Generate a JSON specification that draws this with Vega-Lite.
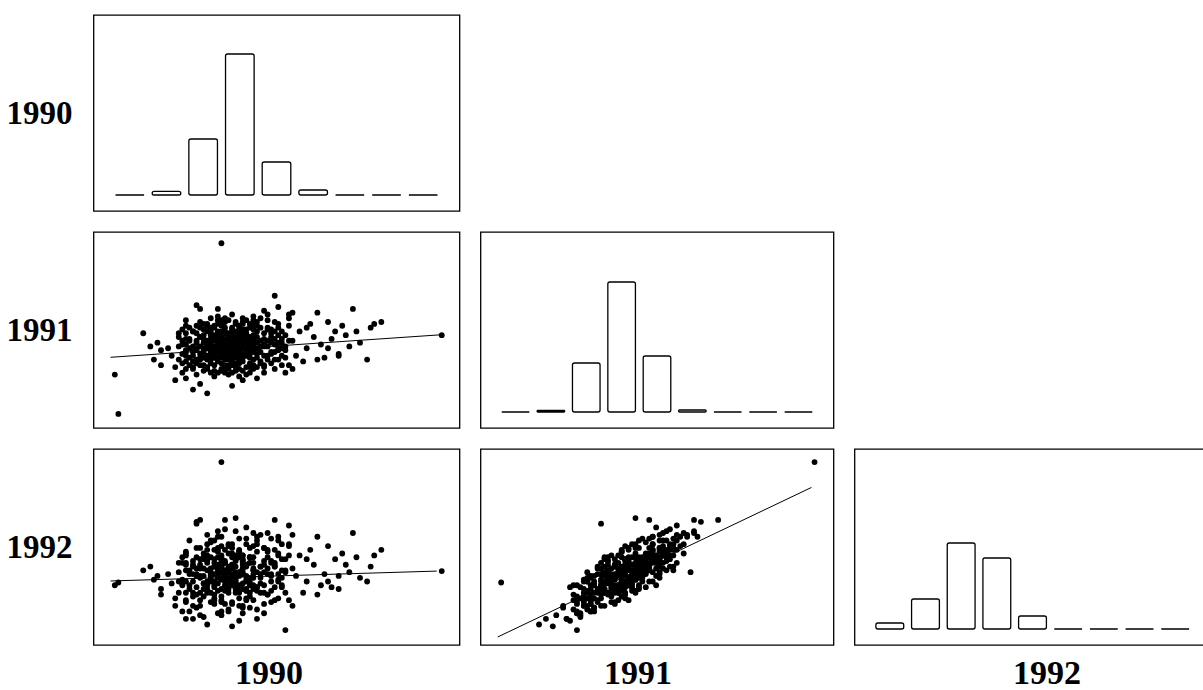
{
  "$schema": "https://vega.github.io/schema/vega-lite/v6.json",
  "padding": {"left": 4.5, "top": 14, "right": -3, "bottom": -1},
  "background": "white",
  "spacing": 19,
  "datasets": {
    "pts": [
      {"v90":3.1,"v91":3.6,"v92":2.9},{"v90":3.3,"v91":3.8,"v92":3.5},{"v90":2.8,"v91":3.4,"v92":2.4},{"v90":3.6,"v91":3.9,"v92":3.1},
      {"v90":3.0,"v91":4.1,"v92":3.8},{"v90":3.4,"v91":3.3,"v92":2.2},{"v90":2.7,"v91":3.7,"v92":3.3},{"v90":3.8,"v91":3.5,"v92":2.6},
      {"v90":3.2,"v91":4.3,"v92":3.4},{"v90":2.9,"v91":3.0,"v92":2.9},{"v90":3.5,"v91":4.2,"v92":4.0},{"v90":3.0,"v91":3.2,"v92":1.8},
      {"v90":3.7,"v91":3.1,"v92":2.7},{"v90":2.6,"v91":3.9,"v92":3.6},{"v90":3.3,"v91":3.5,"v92":3.9},{"v90":3.9,"v91":4.0,"v92":3.2},
      {"v90":3.1,"v91":2.9,"v92":2.1},{"v90":2.8,"v91":4.2,"v92":3.0},{"v90":3.5,"v91":3.6,"v92":2.3},{"v90":3.2,"v91":3.9,"v92":4.1},
      {"v90":3.6,"v91":3.2,"v92":3.0},{"v90":2.9,"v91":3.8,"v92":2.5},{"v90":3.4,"v91":4.4,"v92":3.7},{"v90":3.0,"v91":3.5,"v92":3.4},
      {"v90":3.8,"v91":3.7,"v92":3.6},{"v90":2.7,"v91":3.1,"v92":2.6},{"v90":3.3,"v91":3.0,"v92":2.5},{"v90":3.6,"v91":4.3,"v92":3.3},
      {"v90":3.1,"v91":4.0,"v92":2.8},{"v90":2.8,"v91":3.6,"v92":3.8},{"v90":3.5,"v91":3.4,"v92":3.1},{"v90":3.2,"v91":3.3,"v92":2.0},
      {"v90":3.7,"v91":3.8,"v92":2.9},{"v90":2.9,"v91":4.4,"v92":4.2},{"v90":3.4,"v91":3.7,"v92":2.7},{"v90":3.0,"v91":3.9,"v92":3.1},
      {"v90":3.9,"v91":3.4,"v92":3.3},{"v90":2.6,"v91":3.5,"v92":2.2},{"v90":3.3,"v91":4.1,"v92":3.0},{"v90":3.6,"v91":3.6,"v92":3.7},
      {"v90":3.1,"v91":3.1,"v92":3.2},{"v90":2.8,"v91":3.9,"v92":3.4},{"v90":3.5,"v91":2.9,"v92":2.4},{"v90":3.2,"v91":3.7,"v92":2.4},
      {"v90":3.8,"v91":4.1,"v92":3.9},{"v90":2.7,"v91":4.0,"v92":2.9},{"v90":3.4,"v91":3.2,"v92":2.6},{"v90":3.0,"v91":4.3,"v92":4.0},
      {"v90":3.7,"v91":3.5,"v92":2.1},{"v90":3.1,"v91":3.4,"v92":3.6},{"v90":2.9,"v91":3.3,"v92":2.8},{"v90":3.6,"v91":4.0,"v92":3.5},
      {"v90":3.3,"v91":3.6,"v92":2.6},{"v90":2.7,"v91":3.3,"v92":3.0},{"v90":3.9,"v91":3.7,"v92":2.8},{"v90":3.2,"v91":3.0,"v92":3.1},
      {"v90":3.5,"v91":3.9,"v92":2.9},{"v90":2.8,"v91":3.2,"v92":1.9},{"v90":3.4,"v91":4.1,"v92":3.8},{"v90":3.0,"v91":3.7,"v92":3.7},
      {"v90":3.7,"v91":4.2,"v92":3.4},{"v90":3.1,"v91":3.8,"v92":2.3},{"v90":2.6,"v91":3.8,"v92":3.2},{"v90":3.3,"v91":3.4,"v92":2.9},
      {"v90":3.8,"v91":3.2,"v92":2.4},{"v90":2.9,"v91":3.6,"v92":3.1},{"v90":3.5,"v91":3.1,"v92":2.0},{"v90":3.2,"v91":4.2,"v92":3.1},
      {"v90":3.6,"v91":3.5,"v92":3.3},{"v90":3.0,"v91":3.0,"v92":2.2},{"v90":3.4,"v91":3.9,"v92":3.4},{"v90":2.7,"v91":3.5,"v92":2.7},
      {"v90":3.9,"v91":3.9,"v92":3.0},{"v90":3.1,"v91":4.4,"v92":3.6},{"v90":3.3,"v91":3.2,"v92":3.3},{"v90":2.8,"v91":3.0,"v92":2.6},
      {"v90":3.7,"v91":3.3,"v92":3.5},{"v90":3.2,"v91":3.5,"v92":2.2},{"v90":3.5,"v91":3.8,"v92":3.9},{"v90":3.0,"v91":3.3,"v92":2.7},
      {"v90":3.6,"v91":3.7,"v92":2.5},{"v90":2.9,"v91":4.1,"v92":3.5},{"v90":3.4,"v91":3.5,"v92":3.0},{"v90":3.1,"v91":3.7,"v92":3.2},
      {"v90":3.8,"v91":3.9,"v92":3.6},{"v90":2.7,"v91":3.9,"v92":2.7},{"v90":3.3,"v91":3.9,"v92":2.8},{"v90":3.5,"v91":4.4,"v92":4.3},
      {"v90":3.0,"v91":3.8,"v92":2.8},{"v90":3.2,"v91":3.2,"v92":2.8},
      {"v90":2.3,"v91":3.5,"v92":2.9},{"v90":2.1,"v91":3.9,"v92":3.2},{"v90":2.4,"v91":3.0,"v92":2.0},{"v90":2.2,"v91":4.4,"v92":3.7},
      {"v90":2.5,"v91":2.6,"v92":2.2},{"v90":1.9,"v91":3.2,"v92":2.5},{"v90":2.0,"v91":3.7,"v92":3.6},{"v90":2.4,"v91":4.1,"v92":2.8},
      {"v90":4.1,"v91":3.6,"v92":3.0},{"v90":4.3,"v91":3.9,"v92":3.9},{"v90":4.0,"v91":3.0,"v92":2.1},{"v90":4.4,"v91":3.3,"v92":2.9},
      {"v90":4.2,"v91":4.3,"v92":3.5},{"v90":4.6,"v91":3.5,"v92":2.6},{"v90":4.5,"v91":4.0,"v92":3.4},{"v90":4.1,"v91":2.7,"v92":2.5},
      {"v90":4.7,"v91":3.8,"v92":3.2},{"v90":4.3,"v91":3.1,"v92":1.9},{"v90":3.0,"v91":2.4,"v92":1.5},{"v90":3.4,"v91":2.3,"v92":2.3},
      {"v90":2.8,"v91":2.6,"v92":1.4},{"v90":3.7,"v91":2.5,"v92":2.1},{"v90":3.2,"v91":2.1,"v92":1.1},{"v90":3.9,"v91":2.6,"v92":1.6},
      {"v90":2.6,"v91":2.4,"v92":2.0},{"v90":3.5,"v91":2.7,"v92":1.7},{"v90":3.1,"v91":2.5,"v92":2.6},{"v90":3.3,"v91":2.8,"v92":1.5},
      {"v90":3.0,"v91":4.7,"v92":4.5},{"v90":3.4,"v91":4.9,"v92":4.0},{"v90":2.7,"v91":4.6,"v92":3.9},{"v90":3.8,"v91":4.6,"v92":4.4},
      {"v90":3.2,"v91":5.0,"v92":4.6},{"v90":3.6,"v91":4.8,"v92":3.7},{"v90":2.5,"v91":4.8,"v92":4.1},{"v90":4.0,"v91":4.7,"v92":4.8},
      {"v90":2.9,"v91":5.2,"v92":5.0},{"v90":3.3,"v91":4.6,"v92":3.5},{"v90":2.3,"v91":4.3,"v92":3.9},{"v90":4.4,"v91":4.5,"v92":3.6},
      {"v90":2.0,"v91":2.8,"v92":1.6},{"v90":1.8,"v91":3.6,"v92":3.1},{"v90":2.2,"v91":3.3,"v92":3.4},{"v90":2.5,"v91":3.8,"v92":2.5},
      {"v90":2.3,"v91":2.7,"v92":1.2},{"v90":2.0,"v91":4.0,"v92":3.5},{"v90":4.8,"v91":3.4,"v92":3.1},{"v90":4.6,"v91":4.2,"v92":4.1},
      {"v90":4.2,"v91":3.6,"v92":2.4},{"v90":4.5,"v91":2.9,"v92":2.3},{"v90":4.0,"v91":4.1,"v92":3.1},{"v90":4.7,"v91":3.1,"v92":2.8},
      {"v90":2.6,"v91":2.9,"v92":2.4},{"v90":3.6,"v91":2.8,"v92":2.2},{"v90":3.9,"v91":4.5,"v92":3.9},{"v90":2.8,"v91":4.7,"v92":3.6},
      {"v90":3.5,"v91":2.4,"v92":1.3},{"v90":2.4,"v91":3.6,"v92":3.5},{"v90":4.1,"v91":3.3,"v92":3.4},{"v90":2.1,"v91":3.0,"v92":2.2},
      {"v90":4.3,"v91":4.6,"v92":4.2},{"v90":2.7,"v91":2.2,"v92":1.5},{"v90":3.8,"v91":2.2,"v92":1.8},{"v90":3.1,"v91":5.1,"v92":4.3},
      {"v90":3.7,"v91":5.0,"v92":4.9},{"v90":2.4,"v91":4.6,"v92":4.4},{"v90":4.2,"v91":2.5,"v92":2.0},{"v90":2.2,"v91":2.4,"v92":1.8},
      {"v90":4.5,"v91":3.7,"v92":3.6},{"v90":1.9,"v91":3.9,"v92":2.7},{"v90":2.6,"v91":4.4,"v92":4.6},{"v90":3.3,"v91":2.6,"v92":2.8},
      {"v90":4.0,"v91":3.8,"v92":2.3},{"v90":2.9,"v91":2.2,"v92":0.9},{"v90":3.5,"v91":4.7,"v92":4.2},{"v90":4.4,"v91":4.1,"v92":3.0},
      {"v90":2.0,"v91":3.4,"v92":2.0},{"v90":3.0,"v91":2.7,"v92":1.0},{"v90":4.6,"v91":2.9,"v92":1.7},{"v90":2.5,"v91":4.2,"v92":3.3},
      {"v90":5.0,"v91":3.9,"v92":3.3},{"v90":5.2,"v91":4.4,"v92":4.0},{"v90":5.4,"v91":3.5,"v92":2.6},{"v90":5.1,"v91":3.1,"v92":2.9},
      {"v90":5.6,"v91":4.1,"v92":3.5},{"v90":5.8,"v91":3.7,"v92":2.4},{"v90":5.5,"v91":4.8,"v92":4.3},{"v90":5.9,"v91":3.0,"v92":3.0},
      {"v90":6.2,"v91":4.4,"v92":3.8},{"v90":6.0,"v91":3.5,"v92":2.6},{"v90":6.3,"v91":3.2,"v92":2.2},{"v90":5.3,"v91":2.8,"v92":2.0},
      {"v90":6.5,"v91":4.2,"v92":3.5},{"v90":6.8,"v91":4.4,"v92":3.9},{"v90":7.2,"v91":4.6,"v92":3.4},{"v90":6.9,"v91":3.8,"v92":2.8},
      {"v90":7.1,"v91":2.9,"v92":2.6},{"v90":6.3,"v91":3.1,"v92":2.9},{"v90":6.7,"v91":5.6,"v92":5.2},{"v90":7.3,"v91":4.8,"v92":4.0},
      {"v90":4.9,"v91":5.3,"v92":4.6},{"v90":5.0,"v91":2.4,"v92":1.3},{"v90":5.7,"v91":2.9,"v92":1.9},{"v90":6.1,"v91":4.0,"v92":2.3},
      {"v90":5.4,"v91":4.6,"v92":3.8},{"v90":4.9,"v91":2.6,"v92":1.6},{"v90":6.0,"v91":4.9,"v92":4.5},{"v90":6.4,"v91":4.7,"v92":4.1},
      {"v90":5.7,"v91":5.4,"v92":5.0},{"v90":6.6,"v91":3.6,"v92":3.1},
      {"v90":0.8,"v91":4.3,"v92":3.2},{"v90":1.0,"v91":3.6,"v92":3.4},{"v90":1.3,"v91":3.4,"v92":2.2},{"v90":1.3,"v91":2.6,"v92":1.9},
      {"v90":1.7,"v91":1.8,"v92":1.3},{"v90":1.5,"v91":3.5,"v92":3.0},{"v90":1.2,"v91":3.8,"v92":2.9},{"v90":1.6,"v91":3.1,"v92":2.5},
      {"v90":1.8,"v91":4.3,"v92":3.6},{"v90":1.7,"v91":2.5,"v92":1.7},{"v90":2.0,"v91":1.9,"v92":0.6},{"v90":1.9,"v91":2.2,"v92":1.0},
      {"v90":3.0,"v91":9.1,"v92":9.0},{"v90":0.0,"v91":2.1,"v92":2.4},{"v90":0.1,"v91":0.0,"v92":2.55},{"v90":9.2,"v91":4.2,"v92":3.16},
      {"v90":4.5,"v91":6.3,"v92":5.9},{"v90":2.3,"v91":5.8,"v92":5.8},{"v90":2.4,"v91":5.6,"v92":5.9},{"v90":3.4,"v91":3.9,"v92":6.0},
      {"v90":3.7,"v91":4.5,"v92":5.5},{"v90":5.0,"v91":5.4,"v92":5.1},{"v90":4.3,"v91":5.3,"v92":5.2},{"v90":2.6,"v91":1.1,"v92":0.3},
      {"v90":4.0,"v91":1.9,"v92":0.6},{"v90":3.3,"v91":1.5,"v92":0.2},{"v90":2.4,"v91":1.6,"v92":0.8},{"v90":4.8,"v91":2.2,"v92":0.0},
      {"v90":3.6,"v91":1.8,"v92":1.2},{"v90":2.2,"v91":1.3,"v92":0.6},{"v90":4.6,"v91":5.7,"v92":5.0},{"v90":2.9,"v91":5.6,"v92":5.3},
      {"v90":2.0,"v91":5.0,"v92":4.0},{"v90":4.9,"v91":5.1,"v92":5.6},{"v90":1.1,"v91":2.9,"v92":2.7},{"v90":7.5,"v91":4.9,"v92":4.3},
      {"v90":4.2,"v91":5.5,"v92":3.1},{"v90":3.9,"v91":5.0,"v92":3.2},{"v90":2.3,"v91":2.9,"v92":5.7},{"v90":3.1,"v91":4.3,"v92":5.9},
      {"v90":2.2,"v91":3.1,"v92":3.5},{"v90":4.4,"v91":3.8,"v92":2.1},{"v90":2.5,"v91":4.5,"v92":2.9},{"v90":3.9,"v91":2.9,"v92":3.6},
      {"v90":1.9,"v91":2.7,"v92":2.4},{"v90":4.7,"v91":4.4,"v92":4.6},{"v90":2.8,"v91":2.0,"v92":2.3},{"v90":3.6,"v91":5.1,"v92":3.6},
      {"v90":2.1,"v91":4.6,"v92":4.8},{"v90":4.2,"v91":2.2,"v92":0.9},{"v90":3.1,"v91":3.3,"v92":1.4},{"v90":2.6,"v91":3.7,"v92":4.3},
      {"v90":4.5,"v91":4.9,"v92":3.4},{"v90":3.4,"v91":2.5,"v92":3.1},{"v90":2.4,"v91":2.9,"v92":1.3},{"v90":4.0,"v91":3.5,"v92":4.2},
      {"v90":1.8,"v91":4.1,"v92":2.6},{"v90":3.7,"v91":4.0,"v92":2.2},{"v90":2.9,"v91":4.8,"v92":3.2},{"v90":4.8,"v91":3.0,"v92":2.0},
      {"v90":2.3,"v91":3.9,"v92":4.4},{"v90":3.8,"v91":2.7,"v92":1.2},{"v90":2.7,"v91":4.2,"v92":4.7},{"v90":4.3,"v91":3.6,"v92":1.9},
      {"v90":3.2,"v91":2.4,"v92":2.7},{"v90":2.0,"v91":3.3,"v92":1.5},{"v90":4.6,"v91":4.6,"v92":3.0},{"v90":3.5,"v91":3.2,"v92":4.0},
      {"v90":2.5,"v91":2.3,"v92":0.7},{"v90":3.9,"v91":4.7,"v92":5.2},{"v90":2.2,"v91":4.4,"v92":2.6},{"v90":4.1,"v91":2.8,"v92":3.4},
      {"v90":3.0,"v91":5.0,"v92":3.4},{"v90":4.9,"v91":3.9,"v92":4.5},{"v90":2.6,"v91":3.1,"v92":3.7},{"v90":3.3,"v91":4.5,"v92":2.4},
      {"v90":2.1,"v91":2.6,"v92":1.0},{"v90":3.6,"v91":2.3,"v92":0.9},{"v90":4.4,"v91":4.3,"v92":4.9},{"v90":2.8,"v91":3.4,"v92":1.6},
      {"v90":3.4,"v91":4.8,"v92":5.3},{"v90":1.9,"v91":3.7,"v92":3.9},{"v90":4.2,"v91":3.1,"v92":3.7},{"v90":2.4,"v91":4.9,"v92":3.8},
      {"v90":3.7,"v91":3.6,"v92":1.7},{"v90":3.1,"v91":2.2,"v92":2.4},{"v90":4.6,"v91":3.4,"v92":4.0},{"v90":2.3,"v91":2.1,"v92":1.9},
      {"v90":3.9,"v91":4.2,"v92":2.3},{"v90":2.7,"v91":5.1,"v92":4.8},{"v90":4.0,"v91":2.5,"v92":1.1},{"v90":3.3,"v91":3.9,"v92":4.6},
      {"v90":2.0,"v91":4.3,"v92":4.1},{"v90":4.7,"v91":2.6,"v92":2.4},{"v90":3.5,"v91":4.6,"v92":3.1},{"v90":2.9,"v91":2.8,"v92":3.3},
      {"v90":4.3,"v91":5.0,"v92":4.3},{"v90":2.2,"v91":3.6,"v92":2.0},{"v90":3.8,"v91":3.0,"v92":3.9},{"v90":3.0,"v91":4.4,"v92":5.0},
      {"v90":4.5,"v91":2.4,"v92":1.6},{"v90":2.5,"v91":3.3,"v92":3.8},{"v90":3.6,"v91":4.9,"v92":4.0},{"v90":1.8,"v91":2.9,"v92":2.0},
      {"v90":4.1,"v91":4.6,"v92":2.8},{"v90":3.2,"v91":2.6,"v92":1.0},{"v90":2.8,"v91":4.0,"v92":4.8},{"v90":4.8,"v91":4.2,"v92":3.2},
      {"v90":2.3,"v91":4.7,"v92":3.3},{"v90":3.7,"v91":2.1,"v92":1.6},{"v90":3.4,"v91":3.0,"v92":3.8},{"v90":2.6,"v91":2.5,"v92":2.6},
      {"v90":4.4,"v91":3.2,"v92":1.5},{"v90":3.0,"v91":3.7,"v92":1.6},{"v90":2.1,"v91":4.0,"v92":3.0},{"v90":3.9,"v91":5.2,"v92":4.5},
      {"v90":4.2,"v91":4.0,"v92":4.4},{"v90":2.9,"v91":3.5,"v92":4.3},{"v90":3.5,"v91":2.0,"v92":0.5},{"v90":2.4,"v91":4.1,"v92":3.3},
      {"v90":4.6,"v91":3.8,"v92":2.7},{"v90":3.1,"v91":4.9,"v92":5.4},{"v90":2.7,"v91":2.9,"v92":2.0},{"v90":3.8,"v91":3.4,"v92":2.0},
      {"v90":2.0,"v91":2.4,"v92":2.6},{"v90":4.3,"v91":2.9,"v92":3.0},{"v90":3.3,"v91":5.3,"v92":4.1},{"v90":2.5,"v91":3.5,"v92":1.8},
      {"v90":4.0,"v91":4.4,"v92":5.0},{"v90":3.6,"v91":3.0,"v92":1.3},{"v90":2.2,"v91":2.8,"v92":3.0},{"v90":4.9,"v91":4.7,"v92":4.0},
      {"v90":3.2,"v91":3.6,"v92":4.5},{"v90":2.8,"v91":2.3,"v92":1.7},{"v90":3.7,"v91":4.3,"v92":2.6},{"v90":4.5,"v91":3.3,"v92":3.5},
      {"v90":1.9,"v91":4.5,"v92":3.6},{"v90":3.4,"v91":2.7,"v92":2.0},{"v90":2.6,"v91":4.6,"v92":5.1},{"v90":4.1,"v91":3.9,"v92":2.0},
      {"v90":3.0,"v91":3.1,"v92":3.9},{"v90":2.3,"v91":3.4,"v92":2.3},{"v90":3.9,"v91":2.4,"v92":2.2},{"v90":4.7,"v91":4.0,"v92":3.8},
      {"v90":2.9,"v91":5.0,"v92":4.4},{"v90":3.5,"v91":4.1,"v92":4.9},{"v90":2.1,"v91":3.5,"v92":2.4},{"v90":4.2,"v91":2.6,"v92":1.4},
      {"v90":3.1,"v91":2.6,"v92":2.9},{"v90":2.7,"v91":4.4,"v92":3.1},{"v90":3.8,"v91":4.8,"v92":3.9},{"v90":4.4,"v91":2.7,"v92":2.6},
      {"v90":2.4,"v91":2.6,"v92":1.6},{"v90":3.3,"v91":4.3,"v92":4.4},{"v90":2.0,"v91":3.1,"v92":3.2},{"v90":4.0,"v91":3.2,"v92":2.3},
      {"v90":3.6,"v91":4.5,"v92":4.0},{"v90":2.9,"v91":3.9,"v92":2.1},{"v90":4.6,"v91":4.8,"v92":4.8},{"v90":3.2,"v91":2.9,"v92":3.3},
      {"v90":2.5,"v91":4.0,"v92":3.9},{"v90":3.7,"v91":3.8,"v92":4.6},{"v90":4.3,"v91":4.5,"v92":3.3},{"v90":2.2,"v91":2.5,"v92":1.3},
      {"v90":3.4,"v91":4.0,"v92":2.4},{"v90":2.8,"v91":3.0,"v92":3.4},{"v90":4.8,"v91":3.6,"v92":3.8},{"v90":3.0,"v91":2.3,"v92":0.8},
      {"v90":3.9,"v91":3.3,"v92":2.4},{"v90":2.6,"v91":4.8,"v92":4.0},{"v90":4.1,"v91":5.1,"v92":5.1},{"v90":3.5,"v91":3.5,"v92":4.2},
      {"v90":2.3,"v91":3.8,"v92":3.0},{"v90":4.5,"v91":4.4,"v92":4.3},{"v90":3.1,"v91":4.6,"v92":3.7},{"v90":2.7,"v91":2.7,"v92":2.9},
      {"v90":3.8,"v91":2.5,"v92":2.8},{"v90":2.0,"v91":4.7,"v92":4.2},{"v90":4.2,"v91":3.7,"v92":4.4},{"v90":3.3,"v91":2.2,"v92":1.4},
      {"v90":2.5,"v91":3.0,"v92":2.5},{"v90":3.6,"v91":4.2,"v92":3.8},{"v90":4.7,"v91":3.5,"v92":2.3},{"v90":2.9,"v91":4.3,"v92":3.9},
      {"v90":3.2,"v91":3.4,"v92":2.4},{"v90":4.0,"v91":4.9,"v92":4.6},{"v90":2.4,"v91":3.2,"v92":2.9},{"v90":3.5,"v91":2.9,"v92":3.0},
      {"v90":4.4,"v91":4.0,"v92":3.7},{"v90":2.8,"v91":4.6,"v92":4.3}
    ],
    "hist": [
      {"var":"1990","bin":1,"n":0},{"var":"1990","bin":2,"n":3.7},{"var":"1990","bin":3,"n":56},{"var":"1990","bin":4,"n":141},
      {"var":"1990","bin":5,"n":33},{"var":"1990","bin":6,"n":5},{"var":"1990","bin":7,"n":0},{"var":"1990","bin":8,"n":0},{"var":"1990","bin":9,"n":0},
      {"var":"1991","bin":1,"n":0},{"var":"1991","bin":2,"n":1.5},{"var":"1991","bin":3,"n":49},{"var":"1991","bin":4,"n":130},
      {"var":"1991","bin":5,"n":56},{"var":"1991","bin":6,"n":2},{"var":"1991","bin":7,"n":0},{"var":"1991","bin":8,"n":0},{"var":"1991","bin":9,"n":0},
      {"var":"1992","bin":1,"n":6},{"var":"1992","bin":2,"n":30},{"var":"1992","bin":3,"n":86},{"var":"1992","bin":4,"n":71},
      {"var":"1992","bin":5,"n":13},{"var":"1992","bin":6,"n":0},{"var":"1992","bin":7,"n":0},{"var":"1992","bin":8,"n":0},{"var":"1992","bin":9,"n":0}
    ],
    "fit": [
      {"pair":"a","v90":-0.12,"v91":3.02},{"pair":"a","v90":9.17,"v91":4.22},
      {"pair":"b","v90":-0.12,"v92":2.63},{"pair":"b","v90":9.06,"v92":3.16},
      {"pair":"c","v91":-0.1,"v92":-0.37},{"pair":"c","v91":9.01,"v92":7.64}
    ]
  },
  "config": {
    "view": {"stroke": "black", "strokeWidth": 1.3},
    "axis": {"labels": false, "ticks": false, "domain": false, "grid": false, "titleFont": "Liberation Serif", "titleFontWeight": "bold", "titleColor": "black"},
    "axisY": {"titleAngle": 0, "titleAlign": "right", "titleBaseline": "middle", "titlePadding": 21.5, "titleFontSize": 33},
    "axisX": {"titleFontSize": 34, "titleBaseline": "alphabetic", "titleY": 38, "titleAlign": "center"}
  },
  "vconcat": [
    {
      "width": 366, "height": 196,
      "data": {"name": "hist"},
      "transform": [{"filter": "datum.var === '1990'"}],
      "mark": {"type": "bar", "fill": "white", "stroke": "black", "strokeWidth": 1.3, "cornerRadius": 2},
      "encoding": {
        "x": {"field": "bin", "type": "ordinal", "axis": null, "scale": {"paddingInner": 0.22, "paddingOuter": 0.6}},
        "y": {"field": "n", "type": "quantitative", "scale": {"domain": [-16, 180], "nice": false, "zero": false}, "axis": {"title": "1990"}},
        "y2": {"datum": 0}
      }
    },
    {
      "spacing": 19,
      "hconcat": [
        {
          "width": 366, "height": 196,
          "layer": [
            {"data": {"name": "pts"}, "mark": {"type": "circle", "size": 34, "color": "black", "opacity": 1}},
            {"data": {"name": "fit"}, "transform": [{"filter": "datum.pair === 'a'"}], "mark": {"type": "line", "color": "black", "strokeWidth": 1}, "encoding": {}}
          ],
          "encoding": {
            "x": {"field": "v90", "type": "quantitative", "scale": {"domain": [-0.6, 9.7], "nice": false, "zero": false}, "axis": null},
            "y": {"field": "v91", "type": "quantitative", "scale": {"domain": [-0.75, 9.7], "nice": false, "zero": false}, "axis": {"title": "1991"}}
          }
        },
        {
          "width": 353, "height": 196,
          "data": {"name": "hist"},
          "transform": [{"filter": "datum.var === '1991'"}],
          "mark": {"type": "bar", "fill": "white", "stroke": "black", "strokeWidth": 1.3, "cornerRadius": 2},
          "encoding": {
            "x": {"field": "bin", "type": "ordinal", "axis": null, "scale": {"paddingInner": 0.22, "paddingOuter": 0.6}},
            "y": {"field": "n", "type": "quantitative", "scale": {"domain": [-16, 180], "nice": false, "zero": false}, "axis": null},
            "y2": {"datum": 0}
          }
        }
      ]
    },
    {
      "spacing": 19,
      "hconcat": [
        {
          "width": 366, "height": 196,
          "layer": [
            {"data": {"name": "pts"}, "mark": {"type": "circle", "size": 34, "color": "black", "opacity": 1}},
            {"data": {"name": "fit"}, "transform": [{"filter": "datum.pair === 'b'"}], "mark": {"type": "line", "color": "black", "strokeWidth": 1}, "encoding": {}}
          ],
          "encoding": {
            "x": {"field": "v90", "type": "quantitative", "scale": {"domain": [-0.6, 9.7], "nice": false, "zero": false}, "axis": {"title": "1990", "titleX": 175}},
            "y": {"field": "v92", "type": "quantitative", "scale": {"domain": [-0.8, 9.7], "nice": false, "zero": false}, "axis": {"title": "1992"}}
          }
        },
        {
          "width": 353, "height": 196,
          "layer": [
            {"data": {"name": "pts"}, "mark": {"type": "circle", "size": 34, "color": "black", "opacity": 1}},
            {"data": {"name": "fit"}, "transform": [{"filter": "datum.pair === 'c'"}], "mark": {"type": "line", "color": "black", "strokeWidth": 1}, "encoding": {}}
          ],
          "encoding": {
            "x": {"field": "v91", "type": "quantitative", "scale": {"domain": [-0.6, 9.65], "nice": false, "zero": false}, "axis": {"title": "1991", "titleX": 157}},
            "y": {"field": "v92", "type": "quantitative", "scale": {"domain": [-0.8, 9.7], "nice": false, "zero": false}, "axis": null}
          }
        },
        {
          "width": 356, "height": 196,
          "data": {"name": "hist"},
          "transform": [{"filter": "datum.var === '1992'"}],
          "mark": {"type": "bar", "fill": "white", "stroke": "black", "strokeWidth": 1.3, "cornerRadius": 2},
          "encoding": {
            "x": {"field": "bin", "type": "ordinal", "axis": {"title": "1992", "titleX": 192}, "scale": {"paddingInner": 0.22, "paddingOuter": 0.6}},
            "y": {"field": "n", "type": "quantitative", "scale": {"domain": [-16, 180], "nice": false, "zero": false}, "axis": null},
            "y2": {"datum": 0}
          }
        }
      ]
    }
  ]
}
